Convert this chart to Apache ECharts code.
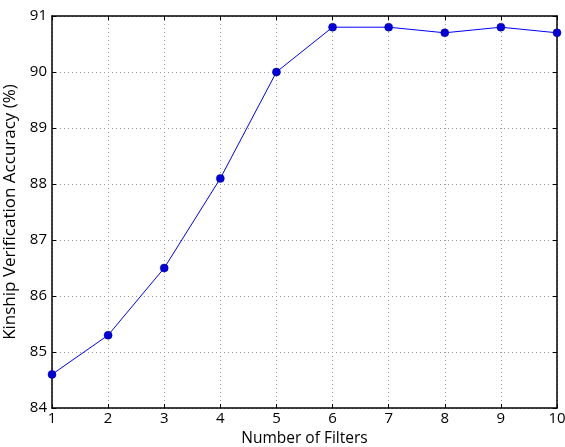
<!DOCTYPE html>
<html><head><meta charset="utf-8">
<script src="https://cdn.jsdelivr.net/npm/echarts@6/dist/echarts.min.js"></script>
<style>html,body{margin:0;padding:0;background:#fff}#c{width:565px;height:447px}</style>
</head><body><div id="c"></div>
<script>
const categories = [1,2,3,4,5,6,7,8,9,10];
const accuracy = [84.6, 85.3, 86.5, 88.1, 90.0, 90.8, 90.8, 90.7, 90.8, 90.7];
const yTicks = [84,85,86,87,88,89,90,91];
const xTitle = 'Number of Filters';
const yTitle = 'Kinship Verification Accuracy (%)';

const font = 'Open Sans';
const chart = echarts.init(document.getElementById('c'), null, {renderer:'canvas'});
const gridLine = {show:true, lineStyle:{color:'#999', type:[1,3], width:1}};
const tick = {show:true, inside:true, length:4, lineStyle:{color:'#000', width:1}};
chart.setOption({
  animation:false,
  backgroundColor:'#fff',
  grid:{left:52, top:16, right:8, bottom:39, containLabel:false, outerBoundsMode:'none'},
  xAxis:[{
    type:'value', min:1, max:10, interval:1,
    name:xTitle, nameLocation:'middle', nameGap:22,
    nameTextStyle:{fontFamily:font, fontSize:15.5, color:'#000'},
    axisLine:{show:true, lineStyle:{color:'#000', width:1.5}},
    axisTick:tick,
    axisLabel:{fontFamily:font, fontSize:15, color:'#000', margin:3},
    splitLine:gridLine
  },{
    type:'value', min:1, max:10, interval:1, position:'top',
    axisLine:{show:true, lineStyle:{color:'#000', width:1.5}},
    axisTick:tick, axisLabel:{show:false}, splitLine:{show:false}
  }],
  yAxis:[{
    type:'value', min:84, max:91, interval:1,
    name:yTitle, nameLocation:'middle', nameGap:21,
    nameTextStyle:{fontFamily:font, fontSize:17, color:'#000'},
    axisLine:{show:true, lineStyle:{color:'#000', width:1.5}},
    axisTick:tick,
    axisLabel:{fontFamily:font, fontSize:15, color:'#000', margin:5,
      formatter:v=>yTicks.includes(v)?String(v):''},
    splitLine:gridLine
  },{
    type:'value', min:84, max:91, interval:1, position:'right',
    axisLine:{show:true, lineStyle:{color:'#000', width:1.5}},
    axisTick:tick, axisLabel:{show:false}, splitLine:{show:false}
  }],
  series:[{
    type:'line',
    data:categories.map((c,i)=>[c, accuracy[i]]),
    symbol:'circle', symbolSize:8,
    lineStyle:{color:'#0000ff', width:1},
    itemStyle:{color:'#0000dd', borderColor:'#000088', borderWidth:0.5},
    clip:true
  }]
});
</script></body></html>
